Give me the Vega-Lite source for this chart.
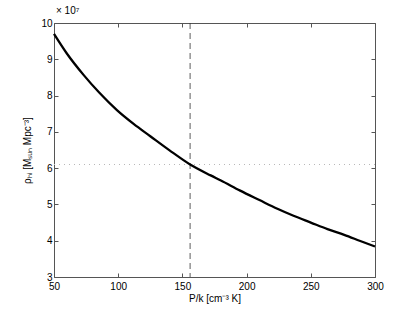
{
  "$schema": "https://vega.github.io/schema/vega-lite/v6.json",
  "width": 321,
  "height": 254,
  "autosize": "none",
  "padding": {"left": 54, "top": 23, "right": 40, "bottom": 35},
  "background": "white",
  "title": {"text": "× 10⁷", "anchor": "start", "frame": "group", "fontSize": 10, "fontWeight": "normal", "font": "Liberation Sans", "color": "black", "offset": 2, "dx": 2},
  "config": {
    "view": {"stroke": null},
    "axis": {
      "grid": false,
      "domainColor": "#555555",
      "tickColor": "#555555",
      "labelFont": "Liberation Sans",
      "titleFont": "Liberation Sans",
      "labelFontSize": 10,
      "titleFontSize": 10,
      "labelColor": "black",
      "titleColor": "black",
      "titleFontWeight": "normal",
      "labelFlush": false,
      "tickSize": -4,
      "domainWidth": 1
    }
  },
  "datasets": {
    "curve": [
      {"pk": 50, "rho": 9.70},
      {"pk": 60, "rho": 9.16},
      {"pk": 73, "rho": 8.57},
      {"pk": 85, "rho": 8.09},
      {"pk": 99, "rho": 7.60},
      {"pk": 112, "rho": 7.22},
      {"pk": 125, "rho": 6.88},
      {"pk": 140, "rho": 6.49},
      {"pk": 156, "rho": 6.10},
      {"pk": 172, "rho": 5.80},
      {"pk": 180, "rho": 5.66},
      {"pk": 195, "rho": 5.38},
      {"pk": 210, "rho": 5.12},
      {"pk": 224, "rho": 4.88},
      {"pk": 237, "rho": 4.68},
      {"pk": 250, "rho": 4.50},
      {"pk": 263, "rho": 4.32},
      {"pk": 276, "rho": 4.16},
      {"pk": 288, "rho": 4.00},
      {"pk": 300, "rho": 3.84}
    ],
    "vline": [{"pk": 156}],
    "hline": [{"rho": 6.1}]
  },
  "layer": [
    {
      "data": {"name": "hline"},
      "mark": {"type": "rule", "color": "#b8b8b8", "strokeWidth": 1, "strokeDash": [1, 4]},
      "encoding": {
        "y": {"field": "rho", "type": "quantitative", "scale": {"domain": [3, 10], "nice": false, "zero": false},
          "axis": {"orient": "right", "values": [3, 4, 5, 6, 7, 8, 9, 10], "labels": false, "title": null}}
      }
    },
    {
      "data": {"name": "vline"},
      "mark": {"type": "rule", "color": "#333333", "strokeWidth": 0.8, "strokeDash": [6, 4]},
      "encoding": {
        "x": {"field": "pk", "type": "quantitative", "scale": {"domain": [50, 300], "nice": false},
          "axis": {"orient": "top", "values": [50, 100, 150, 200, 250, 300], "labels": false, "title": null}}
      }
    },
    {
      "data": {"name": "curve"},
      "mark": {"type": "line", "color": "black", "strokeWidth": 2.3, "interpolate": "monotone"},
      "encoding": {
        "x": {"field": "pk", "type": "quantitative", "scale": {"domain": [50, 300], "nice": false},
          "axis": {"orient": "bottom", "values": [50, 100, 150, 200, 250, 300], "title": "P/k [cm⁻³ K]", "labelPadding": 8, "titlePadding": 2}},
        "y": {"field": "rho", "type": "quantitative", "scale": {"domain": [3, 10], "nice": false, "zero": false},
          "axis": {"orient": "left", "values": [3, 4, 5, 6, 7, 8, 9, 10], "title": "ρₕᵢ [Mₛᵤₙ Mpc⁻³]", "labelPadding": 6, "titlePadding": 8}}
      }
    }
  ],
  "resolve": {"axis": {"x": "independent", "y": "independent"}}
}
